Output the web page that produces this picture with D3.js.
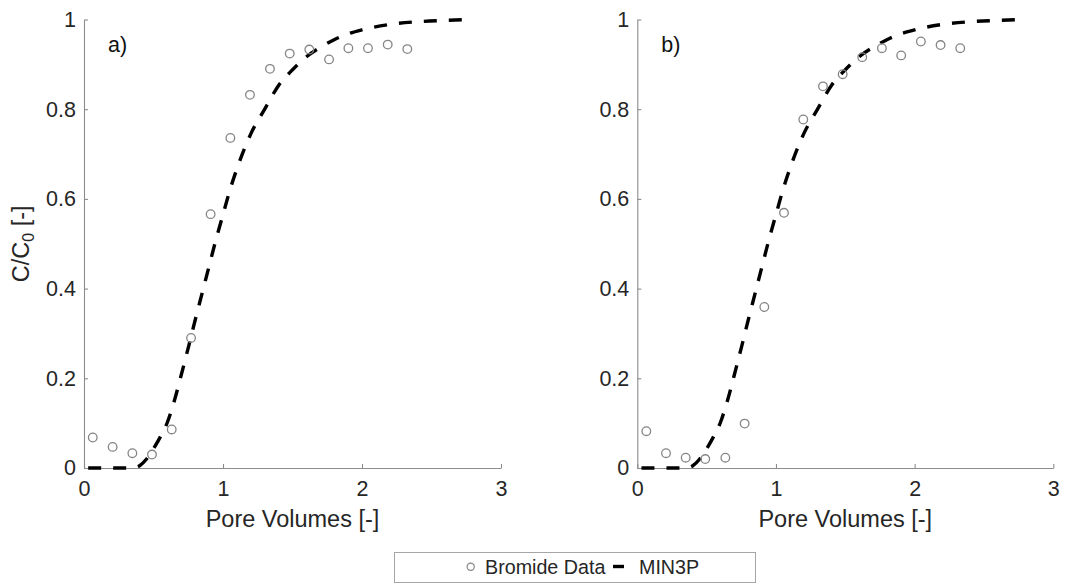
<!DOCTYPE html>
<html>
<head>
<meta charset="utf-8">
<script src="https://cdn.jsdelivr.net/npm/d3@7"></script>
<style>
  html, body { margin: 0; padding: 0; background: #fff; }
  svg { display: block; font-family: "Liberation Sans", Arial, sans-serif; }
</style>
</head>
<body>
<svg id="chart" width="1081" height="584"></svg>
<script>
// Axis ticks
const xTicks = [0, 1, 2, 3];
const xTickLabels = ["0", "1", "2", "3"];
const yTicks = [0, 0.2, 0.4, 0.6, 0.8, 1];
const yTickLabels = ["0", "0.2", "0.4", "0.6", "0.8", "1"];

// Bromide breakthrough measurements, column a)
const poreVolumesA = [0.063, 0.206, 0.348, 0.489, 0.631, 0.770, 0.911, 1.053, 1.194, 1.338, 1.480, 1.621, 1.763, 1.902, 2.043, 2.185, 2.326];
const bromideA     = [0.068, 0.047, 0.033, 0.030, 0.086, 0.290, 0.566, 0.736, 0.832, 0.890, 0.924, 0.933, 0.911, 0.936, 0.936, 0.944, 0.934];

// Bromide breakthrough measurements, column b)
const poreVolumesB = [0.065, 0.207, 0.349, 0.490, 0.635, 0.774, 0.916, 1.058, 1.197, 1.339, 1.481, 1.622, 1.764, 1.903, 2.045, 2.187, 2.329];
const bromideB     = [0.082, 0.033, 0.023, 0.020, 0.023, 0.099, 0.359, 0.569, 0.777, 0.851, 0.878, 0.916, 0.936, 0.920, 0.951, 0.943, 0.936];

// MIN3P simulated breakthrough curve
const modelPV = [0.03, 0.35, 0.40, 0.45, 0.50, 0.55, 0.60, 0.65, 0.70, 0.75, 0.80, 0.85, 0.90, 0.95, 1.00, 1.05, 1.10, 1.20, 1.30, 1.40, 1.50, 1.60, 1.70, 1.80, 1.90, 2.00, 2.20, 2.40, 2.60, 2.78];
const modelC  = [0.000, 0.000, 0.005, 0.020, 0.043, 0.070, 0.102, 0.150, 0.208, 0.268, 0.330, 0.390, 0.450, 0.510, 0.565, 0.620, 0.667, 0.745, 0.800, 0.853, 0.888, 0.917, 0.938, 0.955, 0.968, 0.977, 0.989, 0.995, 0.998, 1.000];

const panelLetters = ["a)", "b)"];
const legendLabels = ["Bromide Data", "MIN3P"];
const xTitle = "Pore Volumes [-]";

const textColor = "#262626";
const axisColor = "#8c8c8c";
const markerColor = "#858585";

const svg = d3.select("#chart");

const panels = [
  { left: 84,    right: 501,    xs: poreVolumesA, ys: bromideA, letter: panelLetters[0], ylabel: true },
  { left: 637.3, right: 1053.3, xs: poreVolumesB, ys: bromideB, letter: panelLetters[1], ylabel: false }
];
const plotTop = 19.5, plotBottom = 468;

const model = modelPV.map((v, i) => [v, modelC[i]]);

panels.forEach(p => {
  const x = d3.scaleLinear().domain([0, 3]).range([p.left, p.right]);
  const y = d3.scaleLinear().domain([0, 1]).range([plotBottom, plotTop]);
  const g = svg.append("g");

  // y axis (ticks pointing inward)
  const yAxis = g.append("g")
    .attr("transform", `translate(${p.left},0)`)
    .call(d3.axisLeft(y).tickValues(yTicks)
      .tickFormat((d, i) => yTickLabels[i])
      .tickSizeInner(-4).tickSizeOuter(0).tickPadding(8));
  // x axis
  const xAxis = g.append("g")
    .attr("transform", `translate(0,${plotBottom})`)
    .call(d3.axisBottom(x).tickValues(xTicks)
      .tickFormat((d, i) => xTickLabels[i])
      .tickSizeInner(-4).tickSizeOuter(0).tickPadding(12));

  [yAxis, xAxis].forEach(a => {
    a.select(".domain").attr("stroke", axisColor).attr("stroke-width", 1.1);
    a.selectAll(".tick line").attr("stroke", axisColor).attr("stroke-width", 1.1);
    a.selectAll(".tick text").attr("fill", textColor)
      .style("font-size", "21.5px");
  });
  xAxis.selectAll(".tick text").attr("dy", "0.76em");

  // x axis title
  g.append("text")
    .attr("x", (p.left + p.right) / 2)
    .attr("y", 527)
    .attr("text-anchor", "middle")
    .attr("fill", textColor)
    .style("font-size", "23.5px")
    .text(xTitle);

  // y axis title with subscript
  if (p.ylabel) {
    const t = g.append("text")
      .attr("transform", `translate(29,${(plotTop + plotBottom) / 2}) rotate(-90)`)
      .attr("text-anchor", "middle")
      .attr("fill", textColor)
      .style("font-size", "23.5px");
    t.append("tspan").text("C/C");
    t.append("tspan").attr("baseline-shift", "-30%").style("font-size", "16px").text("0");
    t.append("tspan").text(" [-]");
  }

  // panel letter
  g.append("text")
    .attr("x", p.left + 24)
    .attr("y", 52)
    .attr("fill", "#111")
    .style("font-size", "21.5px")
    .text(p.letter);

  // model curve
  g.append("path")
    .datum(model)
    .attr("fill", "none")
    .attr("stroke", "#000")
    .attr("stroke-width", 3.4)
    .attr("stroke-dasharray", "13,12")
    .attr("d", d3.line().x(d => x(d[0])).y(d => y(d[1])).curve(d3.curveMonotoneX));

  // measured points
  g.selectAll("circle.obs")
    .data(p.xs.map((v, i) => [v, p.ys[i]]))
    .join("circle")
    .attr("class", "obs")
    .attr("cx", d => x(d[0]))
    .attr("cy", d => y(d[1]))
    .attr("r", 4.3)
    .attr("fill", "none")
    .attr("stroke", markerColor)
    .attr("stroke-width", 1.3);
});

// legend
const lg = svg.append("g");
lg.append("rect")
  .attr("x", 394.5).attr("y", 552.5)
  .attr("width", 361).attr("height", 30)
  .attr("fill", "#fff")
  .attr("stroke", "#a6a6a6").attr("stroke-width", 1);
lg.append("circle")
  .attr("cx", 470.7).attr("cy", 566.7).attr("r", 3.6)
  .attr("fill", "none").attr("stroke", markerColor).attr("stroke-width", 1.2);
lg.append("text")
  .attr("x", 485).attr("y", 574)
  .attr("fill", textColor).style("font-size", "19.7px")
  .text(legendLabels[0]);
lg.append("line")
  .attr("x1", 613).attr("x2", 624).attr("y1", 566.5).attr("y2", 566.5)
  .attr("stroke", "#000").attr("stroke-width", 3.4);
lg.append("text")
  .attr("x", 639).attr("y", 574)
  .attr("fill", textColor).style("font-size", "19.7px")
  .text(legendLabels[1]);
</script>
</body>
</html>
